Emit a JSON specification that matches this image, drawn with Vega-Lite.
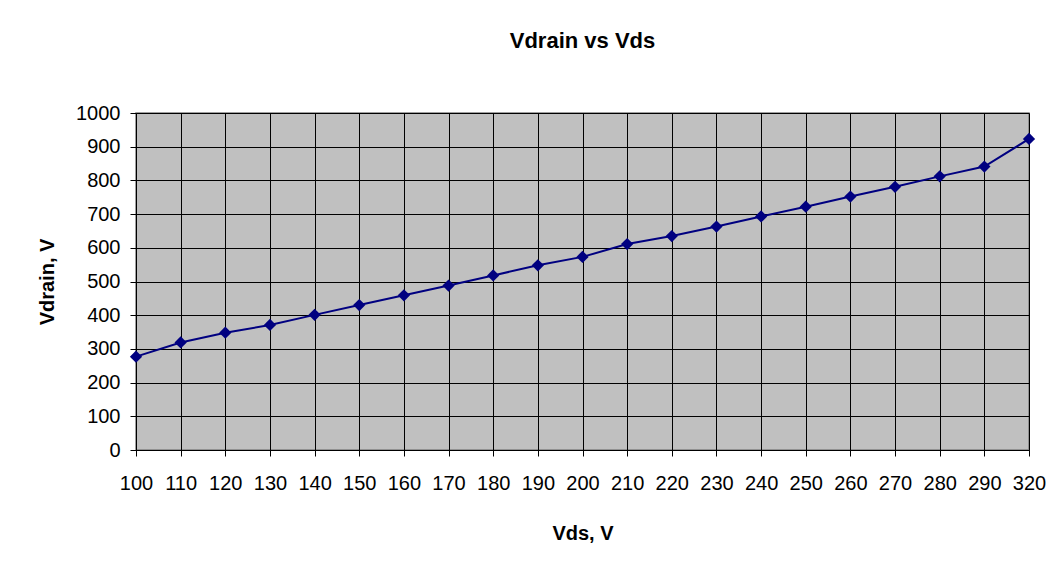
{
  "$schema": "https://vega.github.io/schema/vega-lite/v6.json",
  "autosize": "none",
  "width": 893,
  "height": 337,
  "padding": {"left": 136, "top": 113, "right": 24, "bottom": 114},
  "background": "white",
  "title": {
    "text": "Vdrain vs Vds",
    "font": "Liberation Sans",
    "fontSize": 22,
    "fontWeight": "bold",
    "color": "black",
    "anchor": "middle",
    "baseline": "alphabetic",
    "offset": 33
  },
  "data": {
    "values": [
      {"vds": 100, "vdrain": 277},
      {"vds": 110, "vdrain": 319},
      {"vds": 120, "vdrain": 348},
      {"vds": 130, "vdrain": 371},
      {"vds": 140, "vdrain": 401},
      {"vds": 150, "vdrain": 430},
      {"vds": 160, "vdrain": 459},
      {"vds": 170, "vdrain": 488},
      {"vds": 180, "vdrain": 518},
      {"vds": 190, "vdrain": 548},
      {"vds": 200, "vdrain": 573},
      {"vds": 210, "vdrain": 611},
      {"vds": 220, "vdrain": 635},
      {"vds": 230, "vdrain": 663},
      {"vds": 240, "vdrain": 693},
      {"vds": 250, "vdrain": 722},
      {"vds": 260, "vdrain": 752},
      {"vds": 270, "vdrain": 781},
      {"vds": 280, "vdrain": 812},
      {"vds": 290, "vdrain": 841},
      {"vds": 320, "vdrain": 923}
    ]
  },
  "encoding": {
    "x": {
      "field": "vds",
      "type": "ordinal",
      "sort": "ascending",
      "scale": {"type": "point", "padding": 0},
      "axis": {
        "title": "Vds, V",
        "labelAngle": 0,
        "grid": true,
        "gridColor": "black",
        "gridOpacity": 1,
        "gridWidth": 1,
        "domainColor": "black",
        "domainWidth": 1,
        "tickColor": "black",
        "tickSize": 6,
        "labelPadding": 17,
        "labelFont": "Liberation Sans",
        "labelFontSize": 20,
        "labelColor": "black",
        "titleFont": "Liberation Sans",
        "titleFontSize": 20,
        "titleFontWeight": "bold",
        "titleColor": "black",
        "titlePadding": 30
      }
    },
    "y": {
      "field": "vdrain",
      "type": "quantitative",
      "scale": {"domain": [0, 1000], "nice": false, "zero": true},
      "axis": {
        "title": "Vdrain, V",
        "format": "d",
        "values": [0, 100, 200, 300, 400, 500, 600, 700, 800, 900, 1000],
        "grid": true,
        "gridColor": "black",
        "gridOpacity": 1,
        "gridWidth": 1,
        "domainColor": "black",
        "domainWidth": 1,
        "tickColor": "black",
        "tickSize": 6,
        "labelPadding": 10,
        "labelFont": "Liberation Sans",
        "labelFontSize": 20,
        "labelColor": "black",
        "titleFont": "Liberation Sans",
        "titleFontSize": 20,
        "titleFontWeight": "bold",
        "titleColor": "black",
        "titlePadding": 18
      }
    }
  },
  "layer": [
    {"mark": {"type": "line", "color": "#000080", "strokeWidth": 2}},
    {"mark": {"type": "point", "shape": "diamond", "filled": true, "color": "#000080", "opacity": 1, "size": 150}}
  ],
  "config": {
    "view": {"fill": "#C0C0C0", "stroke": "#808080", "strokeWidth": 1.5}
  }
}
